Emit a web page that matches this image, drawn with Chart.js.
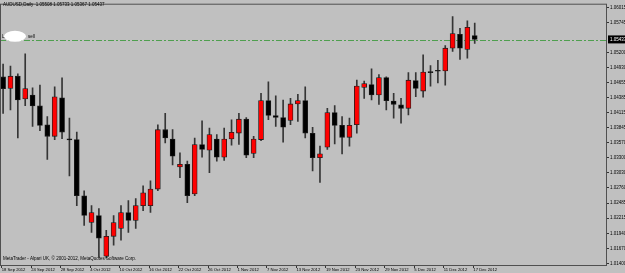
<!DOCTYPE html>
<html>
<head>
<meta charset="utf-8">
<script src="https://cdn.jsdelivr.net/npm/chart.js@4.4.1/dist/chart.umd.min.js"></script>
<style>
  html, body { margin: 0; padding: 0; background: #c0c0c0; }
  #wrap { width: 625px; height: 273px; position: relative; }
</style>
</head>
<body>
<div id="wrap"><canvas id="chart"></canvas></div>
<script>
// AUDUSD daily candles, 18 Sep 2012 - 17 Dec 2012
const dates = [
  '18 Sep 2012','19 Sep 2012','20 Sep 2012','21 Sep 2012','24 Sep 2012','25 Sep 2012','26 Sep 2012','27 Sep 2012','28 Sep 2012',
  '1 Oct 2012','2 Oct 2012','3 Oct 2012','4 Oct 2012','5 Oct 2012','8 Oct 2012','9 Oct 2012','10 Oct 2012','11 Oct 2012','12 Oct 2012',
  '15 Oct 2012','16 Oct 2012','17 Oct 2012','18 Oct 2012','19 Oct 2012','22 Oct 2012','23 Oct 2012','24 Oct 2012','25 Oct 2012','26 Oct 2012',
  '29 Oct 2012','30 Oct 2012','31 Oct 2012','1 Nov 2012','2 Nov 2012','5 Nov 2012','6 Nov 2012','7 Nov 2012','8 Nov 2012','9 Nov 2012',
  '12 Nov 2012','13 Nov 2012','14 Nov 2012','15 Nov 2012','16 Nov 2012','19 Nov 2012','20 Nov 2012','21 Nov 2012','22 Nov 2012','23 Nov 2012',
  '26 Nov 2012','27 Nov 2012','28 Nov 2012','29 Nov 2012','30 Nov 2012','3 Dec 2012','4 Dec 2012','5 Dec 2012','6 Dec 2012','7 Dec 2012',
  '10 Dec 2012','11 Dec 2012','12 Dec 2012','13 Dec 2012','14 Dec 2012','17 Dec 2012'
];

const opens = [
  1.04761,1.04552,1.04774,1.04363,1.04435,1.04238,1.03899,1.03690,1.04386,1.03637,
  1.03631,1.02619,1.02137,1.02262,1.01530,1.01887,1.02030,1.02316,1.02173,1.02441,
  1.02441,1.02739,1.03810,1.03642,1.03137,1.03185,1.02650,1.03542,1.03440,1.03642,
  1.03315,1.03642,1.03749,1.03999,1.03381,1.03631,1.04333,1.04065,1.04029,1.03976,
  1.04274,1.04333,1.03744,1.03303,1.03494,1.04119,1.03887,1.03672,1.03899,1.04570,
  1.04624,1.04435,1.04749,1.04327,1.04256,1.04195,1.04695,1.04506,1.04838,1.04863,
  1.04868,1.05279,1.05529,1.05256,1.05508
];
const highs = [
  1.04993,1.04958,1.04815,1.05177,1.04565,1.04613,1.04047,1.04583,1.04743,1.04017,
  1.03767,1.02708,1.02441,1.02387,1.01994,1.02262,1.02441,1.02530,1.02566,1.02798,
  1.02887,1.03899,1.04106,1.03810,1.03392,1.03244,1.03660,1.03970,1.03838,1.03721,
  1.03838,1.03988,1.04106,1.04029,1.03690,1.04463,1.04672,1.04422,1.04345,1.04374,
  1.04449,1.04583,1.03851,1.03512,1.04195,1.04244,1.04047,1.04017,1.04702,1.04684,
  1.04909,1.04802,1.04761,1.04463,1.04374,1.04838,1.04838,1.05159,1.04966,1.05059,
  1.05327,1.05850,1.05636,1.05773,1.05733
];
const lows = [
  1.04101,1.04167,1.03660,1.04244,1.03869,1.03792,1.03274,1.03631,1.03649,1.02976,
  1.02441,1.02084,1.01959,1.01507,1.01495,1.01727,1.01816,1.01959,1.02030,1.02351,
  1.02316,1.02708,1.03571,1.03173,1.02946,1.02494,1.02619,1.03315,1.03035,1.03244,
  1.03256,1.03530,1.03542,1.03303,1.03303,1.03613,1.03988,1.03869,1.03583,1.03899,
  1.03958,1.03660,1.03065,1.02857,1.03453,1.03553,1.03374,1.03512,1.03749,1.04374,
  1.04345,1.04267,1.04167,1.04017,1.03928,1.04078,1.04404,1.04395,1.04592,1.04654,
  1.04613,1.05220,1.05077,1.05100,1.05367
];
const closes = [
  1.04547,1.04774,1.04345,1.04552,1.04238,1.03887,1.03690,1.04404,1.03767,1.03626,
  1.02619,1.02262,1.02316,1.01852,1.01887,1.02137,1.02316,1.02173,1.02441,1.02673,
  1.02739,1.03810,1.03660,1.03333,1.03185,1.02619,1.03542,1.03453,1.03721,1.03315,
  1.03642,1.03762,1.03999,1.03351,1.03642,1.04333,1.04065,1.04029,1.03856,1.04274,
  1.04333,1.03749,1.03303,1.03374,1.04119,1.03887,1.03672,1.03887,1.04595,1.04642,
  1.04435,1.04749,1.04333,1.04267,1.04195,1.04702,1.04552,1.04850,1.04838,1.04863,
  1.05279,1.05541,1.05279,1.05654,1.05437
];

// price scale labels (the one at the current price is replaced by the price box)
const priceTicks = [
  1.01400,1.01670,1.01940,1.02215,1.02485,1.02760,1.03030,1.03300,1.03570,
  1.03845,1.04115,1.04385,1.04655,1.04930,1.05200,1.05745,1.06015
];
const dateTickEvery = 4;

const symbolName = 'AUDUSD,Daily';
const sellLevel = 1.05420;
const sellText = 'sell';
const footerText = 'MetaTrader - Alpari UK, \u00A9 2001-2012, MetaQuotes Software Corp.';

const FONT = '"Liberation Sans", Arial, sans-serif';
const UP_COLOR = '#ff0000';
const DOWN_COLOR = '#000000';

// bar index range visible on the x axis (chart is shifted to the left)
const xMin = -0.42;
const xMax = 81.95;

const wickData = dates.map((d, i) => ({ x: i, y: [lows[i], highs[i]] }));
const bodyData = dates.map((d, i) => ({ x: i, y: [opens[i], closes[i]] }));
const bodyColors = dates.map((d, i) => closes[i] > opens[i] ? UP_COLOR : DOWN_COLOR);

const overlay = {
  id: 'overlay',
  beforeDatasetsDraw(chart) {
    const { ctx, chartArea: a, scales } = chart;
    // sell order line
    const y = Math.round(scales.y.getPixelForValue(sellLevel)) + 0.5;
    ctx.save();
    ctx.strokeStyle = '#4f9f4f';
    ctx.lineWidth = 1;
    ctx.setLineDash([6, 2, 2, 2]);
    ctx.beginPath();
    ctx.moveTo(a.left, y);
    ctx.lineTo(a.right, y);
    ctx.stroke();
    ctx.restore();
  },
  afterDraw(chart) {
    const { ctx, chartArea: a, scales } = chart;
    ctx.save();
    // frame
    ctx.strokeStyle = '#505050';
    ctx.lineWidth = 1;
    ctx.strokeRect(a.left + 0.5, a.top + 0.5, a.right - a.left - 1, a.bottom - a.top);

    // header
    const last = dates.length - 1;
    ctx.fillStyle = '#000';
    ctx.font = '4.5px ' + FONT;
    ctx.textBaseline = 'middle';
    ctx.textAlign = 'left';
    const head = symbolName + '  ' + [opens[last], highs[last], lows[last], closes[last]]
      .map(v => v.toFixed(5)).join(' ');
    ctx.fillText(head, 3, 5);

    // footer
    ctx.fillText(footerText, 3, a.bottom - 6);

    // sell label with white patch
    const ys = scales.y.getPixelForValue(sellLevel);
    ctx.fillStyle = '#ffffff';
    ctx.beginPath();
    ctx.ellipse(15, ys - 4, 11, 5.5, 0, 0, Math.PI * 2);
    ctx.fill();
    ctx.fillStyle = '#000';
    ctx.fillText('L', 2, ys - 4);
    ctx.fillText(sellText, 28, ys - 4);

    // current price box
    const yc = scales.y.getPixelForValue(closes[last]);
    ctx.fillStyle = '#000';
    ctx.fillRect(a.right + 1, yc - 4, 625 - a.right, 8);
    ctx.fillStyle = '#ffffff';
    ctx.fillText(closes[last].toFixed(5), a.right + 3, yc);
    ctx.restore();
  }
};

new Chart(document.getElementById('chart'), {
  type: 'bar',
  data: {
    datasets: [
      {
        label: 'wick',
        data: wickData,
        backgroundColor: '#353535',
        barThickness: 1,
        grouped: false,
        order: 2
      },
      {
        label: 'body',
        data: bodyData,
        backgroundColor: bodyColors,
        borderColor: '#1e1e1e',
        borderWidth: 0.8,
        borderSkipped: false,
        barThickness: 5,
        minBarLength: 1,
        grouped: false,
        order: 1
      }
    ]
  },
  options: {
    responsive: true,
    maintainAspectRatio: false,
    animation: false,
    devicePixelRatio: 1,
    layout: { padding: { top: 1, left: 0, right: 0, bottom: 0 } },
    plugins: {
      legend: { display: false },
      tooltip: { enabled: false },
      title: { display: false }
    },
    scales: {
      x: {
        type: 'linear',
        position: 'bottom',
        offset: false,
        min: xMin,
        max: xMax,
        afterFit(scale) { scale.height = 8; },
        afterBuildTicks(scale) {
          const t = [];
          for (let i = 0; i < dates.length; i += dateTickEvery) t.push({ value: i - 0.19 });
          scale.ticks = t;
        },
        grid: { offset: false, drawOnChartArea: false, tickLength: 3, color: '#333', tickColor: '#333' },
        border: { display: false },
        ticks: {
          autoSkip: false,
          maxRotation: 0,
          align: 'start',
          padding: -1,
          color: '#000',
          font: { family: FONT, size: 4.2 },
          callback: v => dates[Math.round(v)] || ''
        }
      },
      y: {
        type: 'linear',
        position: 'right',
        min: 1.01370,
        max: 1.06081,
        afterFit(scale) { scale.width = 18; },
        afterBuildTicks(scale) {
          scale.ticks = priceTicks.map(v => ({ value: v }));
        },
        grid: { drawOnChartArea: false, tickLength: 2, color: '#333', tickColor: '#333' },
        border: { display: false },
        ticks: {
          padding: 1,
          color: '#000',
          font: { family: FONT, size: 4.5 },
          callback: v => v.toFixed(5)
        }
      }
    }
  },
  plugins: [overlay]
});
</script>
</body>
</html>
